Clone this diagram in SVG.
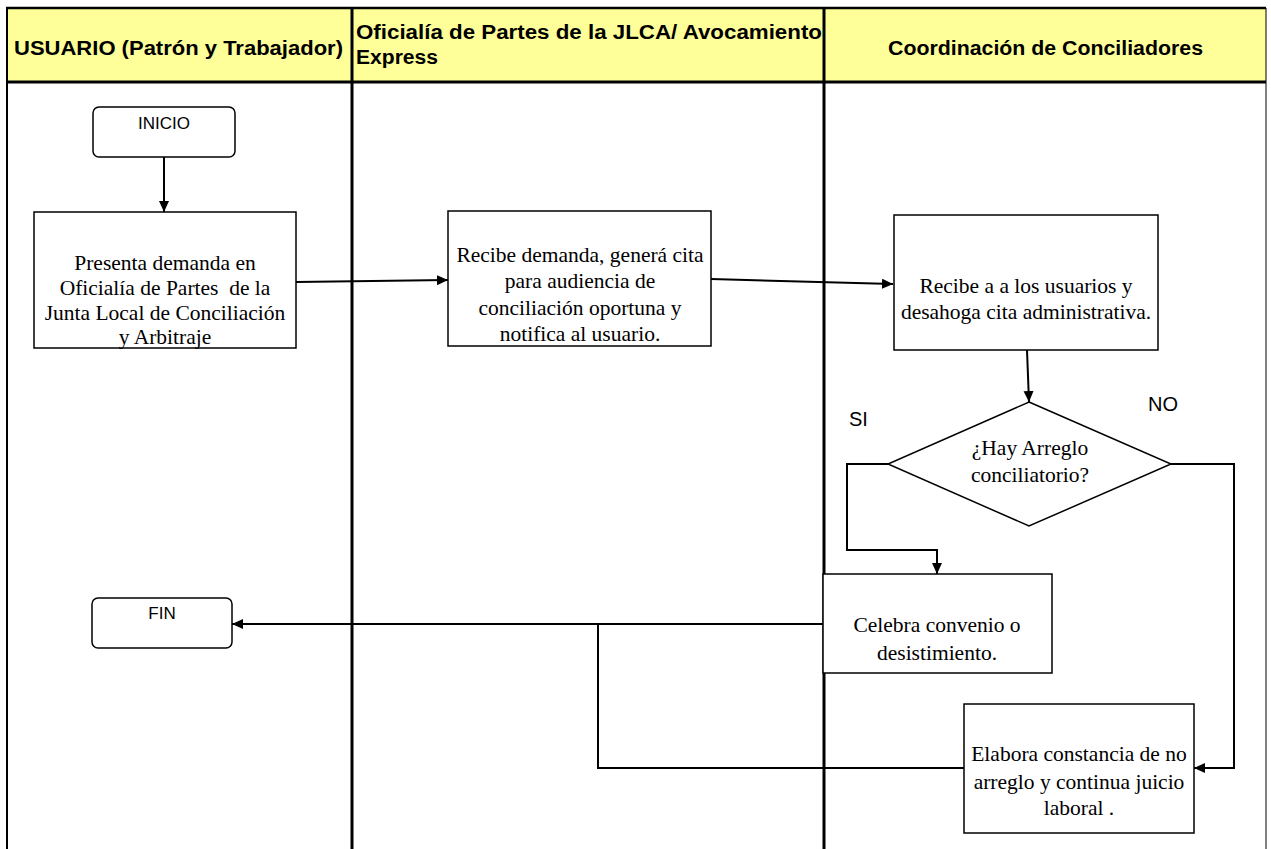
<svg xmlns="http://www.w3.org/2000/svg" width="1271" height="849" viewBox="0 0 1271 849">
<style>
.hdr{font-family:"Liberation Sans",Arial,sans-serif;font-weight:bold;font-size:20px;fill:#000}
.t{font-family:"Liberation Serif","Times New Roman",serif;font-size:21.5px;fill:#000;text-anchor:middle}
.s{font-family:"Liberation Sans",Arial,sans-serif;font-size:17px;fill:#000;text-anchor:middle}
.lbl{font-family:"Liberation Sans",Arial,sans-serif;font-size:20px;fill:#000}
.box{fill:#fff;stroke:#000;stroke-width:1.5}
.con{fill:none;stroke:#000;stroke-width:2}
</style>
<defs>
<marker id="arr" markerUnits="userSpaceOnUse" markerWidth="12" markerHeight="12" refX="11" refY="5" orient="auto">
<path d="M0,0 L11,5 L0,10 z" fill="#000"/>
</marker>
</defs>
<rect width="1271" height="849" fill="#fff"/>
<g id="lanes">
<rect x="6" y="8" width="1260" height="74" fill="#ffff99"/>
<line x1="6" y1="8" x2="1266" y2="8" stroke="#000" stroke-width="2.5"/>
<line x1="6" y1="82" x2="1266" y2="82" stroke="#000" stroke-width="3"/>
<line x1="7" y1="8" x2="7" y2="849" stroke="#000" stroke-width="2"/>
<line x1="352" y1="8" x2="352" y2="849" stroke="#000" stroke-width="3"/>
<line x1="824" y1="8" x2="824" y2="849" stroke="#000" stroke-width="3"/>
<line x1="1266" y1="8" x2="1266" y2="849" stroke="#000" stroke-width="1"/>
<text class="hdr" x="14" y="55" textLength="329" lengthAdjust="spacingAndGlyphs">USUARIO (Patrón y Trabajador)</text>
<text class="hdr" x="356" y="39" textLength="466" lengthAdjust="spacingAndGlyphs">Oficialía de Partes de la JLCA/ Avocamiento</text>
<text class="hdr" x="356" y="64" textLength="82" lengthAdjust="spacingAndGlyphs">Express</text>
<text class="hdr" x="888" y="55" textLength="315" lengthAdjust="spacingAndGlyphs">Coordinación de Conciliadores</text>
</g>
<g id="connectors">
<path class="con" d="M164 157 V212" marker-end="url(#arr)"/>
<path class="con" d="M296 282 L448 280" marker-end="url(#arr)"/>
<path class="con" d="M711 279 L893 284" marker-end="url(#arr)"/>
<path class="con" d="M1027 350 L1029 402" marker-end="url(#arr)"/>
<path class="con" d="M888 464 H847 V550 H937 V574" marker-end="url(#arr)"/>
<path class="con" d="M1171 464 H1234 V768 H1194" marker-end="url(#arr)"/>
<path class="con" d="M823 624 H232" marker-end="url(#arr)"/>
<path class="con" d="M964 768 H598 V624"/>
</g>
<g id="inicio">
<rect class="box" x="93" y="107" width="142" height="50" rx="6"/>
<text class="s" x="164" y="129">INICIO</text>
</g>
<g id="presenta">
<rect class="box" x="34" y="212" width="262" height="136"/>
<text class="t" x="165" y="270">Presenta demanda en</text>
<text class="t" x="165" y="295" xml:space="preserve">Oficialía de Partes  de la</text>
<text class="t" x="165" y="320">Junta Local de Conciliación</text>
<text class="t" x="165" y="344">y Arbitraje</text>
</g>
<g id="recibe-demanda">
<rect class="box" x="448" y="211" width="263" height="135"/>
<text class="t" x="580" y="262">Recibe demanda, generá cita</text>
<text class="t" x="580" y="288">para audiencia de</text>
<text class="t" x="580" y="315">conciliación oportuna y</text>
<text class="t" x="580" y="341">notifica al usuario.</text>
</g>
<g id="recibe-usuarios">
<rect class="box" x="894" y="215" width="264" height="135"/>
<text class="t" x="1026" y="293">Recibe a a los usuarios y</text>
<text class="t" x="1026" y="319">desahoga cita administrativa.</text>
</g>
<g id="decision">
<polygon class="box" points="1029,402 1171,464 1029,526 888,464"/>
<text class="t" x="1030" y="455">¿Hay Arreglo</text>
<text class="t" x="1030" y="482">conciliatorio?</text>
</g>
<text class="lbl" x="849" y="426">SI</text>
<text class="lbl" x="1148" y="411">NO</text>
<g id="celebra">
<rect class="box" x="823" y="574" width="229" height="99"/>
<text class="t" x="937" y="632">Celebra convenio o</text>
<text class="t" x="937" y="660">desistimiento.</text>
</g>
<g id="fin">
<rect class="box" x="92" y="598" width="140" height="50" rx="6"/>
<text class="s" x="162" y="619">FIN</text>
</g>
<g id="elabora">
<rect class="box" x="964" y="704" width="230" height="129"/>
<text class="t" x="1079" y="761">Elabora constancia de no</text>
<text class="t" x="1079" y="789">arreglo y continua juicio</text>
<text class="t" x="1079" y="815">laboral .</text>
</g>
</svg>
